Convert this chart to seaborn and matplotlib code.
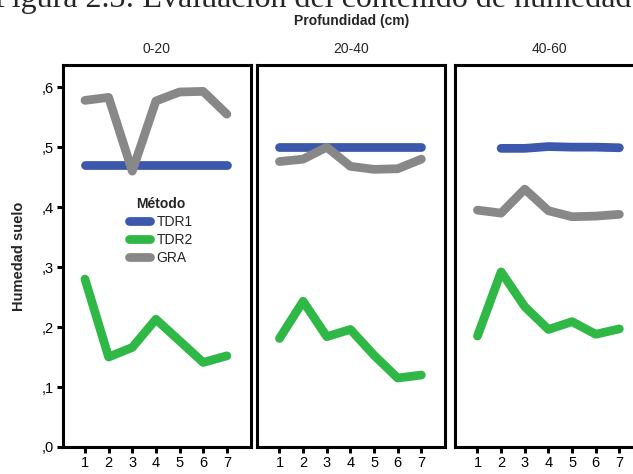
import numpy as np
import pandas as pd
import matplotlib
matplotlib.use("Agg")
import matplotlib.pyplot as plt
import seaborn as sns
from matplotlib.lines import Line2D
from matplotlib.ticker import FixedLocator, FixedFormatter

sns.set_style("white")
plt.rcParams['font.family'] = ['Liberation Sans', 'DejaVu Sans']

# ---------------- data ----------------
depths = ["0-20", "20-40", "40-60"]
x_points = [1, 2, 3, 4, 5, 6, 7]
methods = ["TDR1", "TDR2", "GRA"]

tdr1_0_20 = [0.471, 0.471, 0.471, 0.471, 0.471, 0.471, 0.471]
tdr2_0_20 = [0.280, 0.150, 0.166, 0.213, 0.177, 0.141, 0.152]
gra_0_20 = [0.578, 0.583, 0.460, 0.577, 0.592, 0.593, 0.555]

tdr1_20_40 = [0.500, 0.500, 0.500, 0.500, 0.500, 0.500, 0.500]
tdr2_20_40 = [0.181, 0.243, 0.184, 0.196, 0.153, 0.115, 0.120]
gra_20_40 = [0.476, 0.480, 0.500, 0.468, 0.463, 0.464, 0.480]

tdr1_40_60 = [np.nan, 0.498, 0.498, 0.501, 0.500, 0.500, 0.499]
tdr2_40_60 = [0.185, 0.292, 0.234, 0.196, 0.209, 0.188, 0.197]
gra_40_60 = [0.395, 0.390, 0.430, 0.394, 0.384, 0.385, 0.388]

y_ticks = [0.0, 0.1, 0.2, 0.3, 0.4, 0.5, 0.6]
y_tick_labels = [",0", ",1", ",2", ",3", ",4", ",5", ",6"]
x_tick_labels = ["1", "2", "3", "4", "5", "6", "7"]

palette = {"TDR1": "#3b58ac", "TDR2": "#2fb846", "GRA": "#888888"}

series = {
    "0-20": {"TDR1": tdr1_0_20, "TDR2": tdr2_0_20, "GRA": gra_0_20},
    "20-40": {"TDR1": tdr1_20_40, "TDR2": tdr2_20_40, "GRA": gra_20_40},
    "40-60": {"TDR1": tdr1_40_60, "TDR2": tdr2_40_60, "GRA": gra_40_60},
}

rows = []
for d in depths:
    for m in methods:
        for xv, yv in zip(x_points, series[d][m]):
            rows.append({"Profundidad": d, "Método": m, "x": xv, "Humedad": yv})
df = pd.DataFrame(rows)

# ---------------- figure ----------------
W, H = 633, 474
fig = plt.figure(figsize=(W / 100, H / 100), dpi=100)

ax_top, ax_bottom = 65, 447
ax_w = 188
lefts = [62.5, 257, 455]
axes = []
for i, d in enumerate(depths):
    ax = fig.add_axes([lefts[i] / W, 1 - ax_bottom / H, ax_w / W, (ax_bottom - ax_top) / H])
    sub = df[df["Profundidad"] == d].dropna()
    sns.lineplot(data=sub, x="x", y="Humedad", hue="Método", hue_order=methods,
                 palette=palette, linewidth=6.3, solid_capstyle="round",
                 ax=ax, legend=False, estimator=None, sort=True)
    ax.set_xlim(0.05, 8.0)
    ax.set_ylim(0, 0.637)
    ax.set_xlabel("")
    ax.set_ylabel("")
    for sp in ax.spines.values():
        sp.set_linewidth(2.2)
        sp.set_color("black")
        sp.set_visible(True)
    ax.xaxis.set_major_locator(FixedLocator(x_points))
    ax.xaxis.set_major_formatter(FixedFormatter(x_tick_labels))
    ax.tick_params(axis="x", direction="out", length=4.5, width=2.2, labelsize=10.5,
                   pad=2, bottom=True, colors="black")
    if i == 0:
        ax.yaxis.set_major_locator(FixedLocator(y_ticks))
        ax.yaxis.set_major_formatter(FixedFormatter(y_tick_labels))
        ax.tick_params(axis="y", direction="out", length=4.5, width=2.2, labelsize=10.5,
                       pad=2, left=True, colors="black")
    else:
        ax.tick_params(axis="y", left=False, labelleft=False)
    cx = (lefts[i] + ax_w / 2) / W
    fig.text(cx, 1 - 49 / H, d, ha="center", va="center", fontsize=10)
    axes.append(ax)

# legend in first panel
handles = [Line2D([0], [0], color=palette[m], lw=6.3, solid_capstyle="round") for m in methods]
leg = axes[0].legend(handles, methods, title="Método", loc="upper left",
                     bbox_to_anchor=(0.355, 0.655), frameon=False, fontsize=10,
                     title_fontsize=10, handlelength=1.5, handletextpad=0.45,
                     labelspacing=0.3, borderaxespad=0, borderpad=0)
leg.get_title().set_fontweight("bold")

fig.text(352 / W, 1 - 21 / H, "Profundidad (cm)", ha="center", va="center",
         fontsize=10, fontweight="bold")
fig.text(19 / W, 1 - 256 / H, "Humedad suelo", ha="center", va="center",
         rotation=90, fontsize=10.5, fontweight="bold")
fig.text(-6 / W, 1 - 7 / H, "Figura 2.3: Evaluación del contenido de humedad",
         ha="left", va="baseline", fontsize=23,
         family=["Liberation Serif", "DejaVu Serif"])

fig.savefig("out.png", dpi=100)
